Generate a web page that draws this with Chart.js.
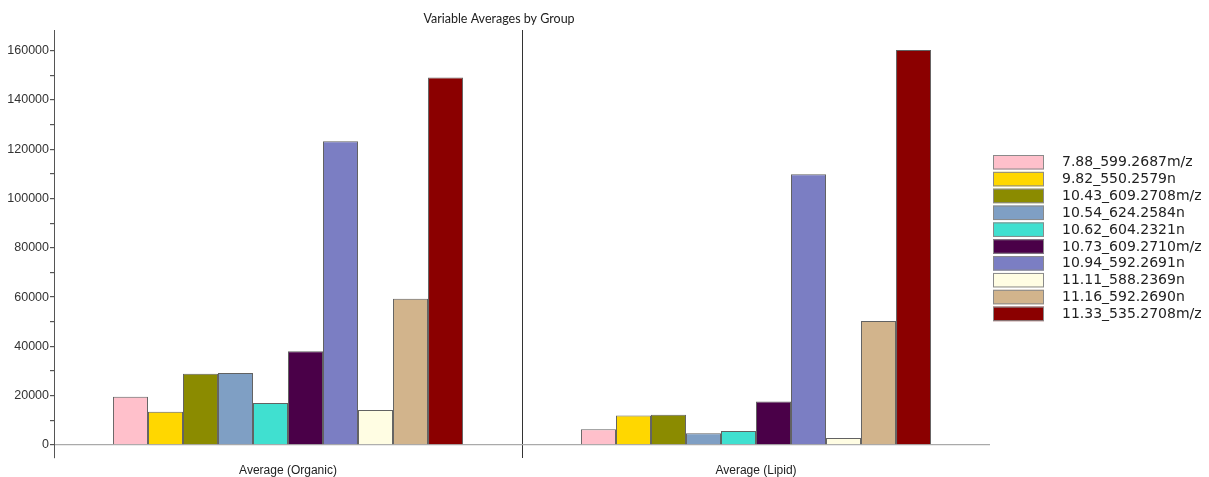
<!DOCTYPE html>
<html>
<head>
<meta charset="utf-8">
<script src="https://cdn.jsdelivr.net/npm/chart.js@4/dist/chart.umd.min.js"></script>
<style>
  html, body { margin: 0; padding: 0; background: #ffffff; }
  #wrap { position: relative; width: 1209px; height: 477px; }
</style>
</head>
<body>
<div id="wrap"><canvas id="chart" width="1209" height="477"></canvas></div>
<script>
// Groups along the x axis
const categories = ['Average (Organic)', 'Average (Lipid)'];

// Variable names (one series each)
const seriesNames = [
  '7.88_599.2687m/z',
  '9.82_550.2579n',
  '10.43_609.2708m/z',
  '10.54_624.2584n',
  '10.62_604.2321n',
  '10.73_609.2710m/z',
  '10.94_592.2691n',
  '11.11_588.2369n',
  '11.16_592.2690n',
  '11.33_535.2708m/z'
];

// Average per variable: [Organic, Lipid]
const v788  = [19600, 6400];
const v982  = [13500, 11900];
const v1043 = [28900, 12300];
const v1054 = [29200, 4700];
const v1062 = [17000, 5700];
const v1073 = [38000, 17600];
const v1094 = [123300, 109900];
const v1111 = [14200, 2800];
const v1116 = [59300, 50300];
const v1133 = [149100, 160300];

const seriesValues = [v788, v982, v1043, v1054, v1062, v1073, v1094, v1111, v1116, v1133];

const seriesColors = [
  '#FFC0CB', '#FFD700', '#8B8B00', '#7F9FC4', '#40E0D0',
  '#4A0048', '#7B7EC3', '#FFFDE3', '#D2B48C', '#8B0000'
];

// Y axis ticks: labelled every 20000, minor marks every 10000
const yTicks = [0, 10000, 20000, 30000, 40000, 50000, 60000, 70000, 80000,
                90000, 100000, 110000, 120000, 130000, 140000, 150000, 160000];
const yLabelStep = 20000;

const chartTitle = 'Variable Averages by Group';

const datasets = seriesNames.map((name, i) => ({
  label: name,
  data: seriesValues[i],
  backgroundColor: seriesColors[i],
  borderColor: 'rgba(70,70,70,0.85)',
  borderWidth: 1,
  categoryPercentage: 0.748,
  barPercentage: 1.0
}));

// Title centred above the plot
const titlePlugin = {
  id: 'plotTitle',
  afterDraw(chart) {
    const c = chart.ctx;
    c.save();
    c.font = '12.5px Lato, "Open Sans", sans-serif';
    c.fillStyle = '#222';
    c.textAlign = 'center';
    c.textBaseline = 'middle';
    c.fillText(chartTitle, 499, 19);
    c.restore();
  }
};

// Boxed legend on the right
const sideLegend = {
  id: 'sideLegend',
  afterDraw(chart) {
    const c = chart.ctx;
    const x0 = 993, y0 = 155, pitch = 16.85, bw = 51, bh = 14.5;
    c.save();
    c.font = '14px "DejaVu Sans", Verdana, sans-serif';
    c.textBaseline = 'middle';
    c.textAlign = 'left';
    chart.data.datasets.forEach((ds, i) => {
      const y = y0 + i * pitch;
      c.fillStyle = ds.backgroundColor;
      c.fillRect(x0, y, bw, bh);
      c.strokeStyle = '#8a8a8a';
      c.lineWidth = 1;
      c.strokeRect(x0 + 0.5, y + 0.5, bw - 1, bh - 1);
      c.fillStyle = '#222';
      c.fillText(ds.label, 1062, y + bh / 2 + 0.5);
    });
    c.restore();
  }
};

new Chart(document.getElementById('chart'), {
  type: 'bar',
  data: { labels: categories, datasets },
  options: {
    responsive: false,
    animation: false,
    layout: { padding: { left: 0, right: 219, top: 30, bottom: 0 } },
    plugins: {
      legend: { display: false },
      title: { display: false },
      tooltip: { enabled: false }
    },
    scales: {
      x: {
        grid: {
          offset: true,
          drawTicks: false,
          lineWidth: 1,
          color: (ctx) => ctx.index === 1 ? '#333' : 'rgba(0,0,0,0)'
        },
        border: { display: false },
        ticks: {
          padding: 5,
          color: '#222',
          font: { family: 'Arial, "Liberation Sans", sans-serif', size: 12 }
        },
        afterFit(scale) { scale.height = 19; }
      },
      y: {
        min: -5300,
        max: 168400,
        afterBuildTicks(scale) {
          scale.ticks = yTicks.map(v => ({ value: v }));
        },
        grid: {
          tickLength: 4,
          tickColor: '#555',
          lineWidth: 1.2,
          color: (ctx) => (ctx.tick && ctx.tick.value === 0) ? '#aaa' : 'rgba(0,0,0,0)'
        },
        border: { display: true, color: '#555', width: 1 },
        ticks: {
          padding: 1,
          color: '#333',
          font: { family: 'Arial, "Liberation Sans", sans-serif', size: 12.5 },
          callback: (v) => (v % yLabelStep === 0 ? String(v) : '')
        },
        afterFit(scale) { scale.width = 54; }
      }
    }
  },
  plugins: [titlePlugin, sideLegend]
});
</script>
</body>
</html>
